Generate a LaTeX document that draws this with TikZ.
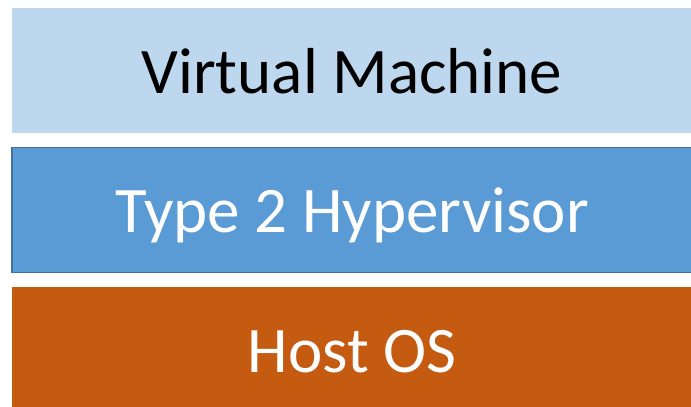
\documentclass[tikz,border=0pt]{standalone}
\usepackage{fontspec}
\setmainfont{Carlito}
\usepackage{tikz}
\usetikzlibrary{positioning}
\definecolor{vmblue}{HTML}{BDD7EE}
\definecolor{hvblue}{HTML}{5B9BD5}
\definecolor{hvedge}{HTML}{41719C}
\definecolor{osorange}{HTML}{C55A11}
\tikzset{
    layer/.style={
        rectangle,
        align=center,
        minimum width=680pt,
        minimum height=125pt,
        inner sep=0pt,
        text height=46pt,
        text depth=0pt,
        font=\fontsize{65}{78}\selectfont
    },
    vmlayer/.style={layer, fill=vmblue, text=black},
    hvlayer/.style={layer, fill=hvblue, draw=hvedge, line width=1.2pt, text=white},
    oslayer/.style={layer, fill=osorange, text=white}
}

\begin{document}
\begin{tikzpicture}[x=1pt, y=-1pt, node distance=14pt]
        \useasboundingbox (0,0) rectangle (691,407);
        \node[vmlayer] at (352,70) (vm) {Virtual Machine};
        \node[hvlayer, below=of vm] (hv) {Type 2 Hypervisor};
        \node[oslayer, below=of hv] (os) {Host OS};
    \end{tikzpicture}
\end{document}
